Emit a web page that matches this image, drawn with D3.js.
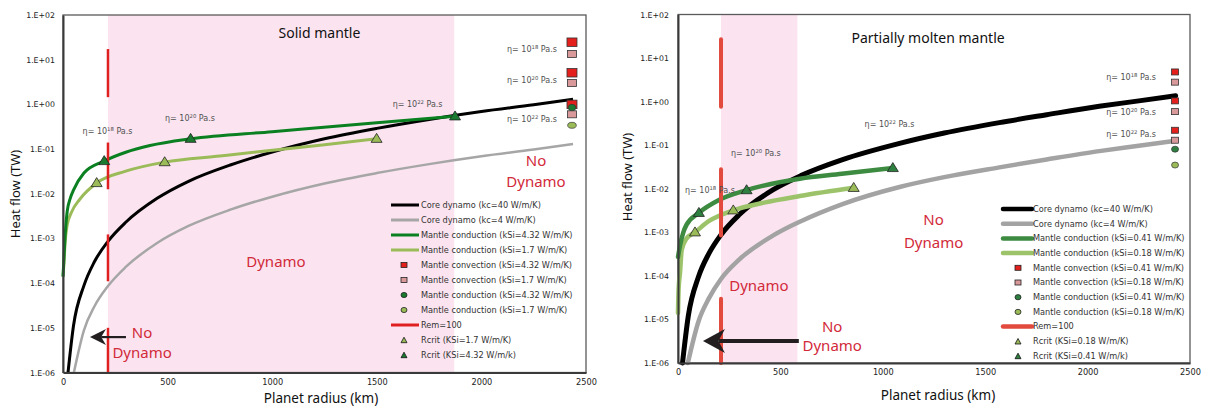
<!DOCTYPE html>
<html><head><meta charset="utf-8">
<script src="https://cdn.jsdelivr.net/npm/d3@7"></script>
<style>body{margin:0;background:#fff}</style>
</head><body>
<svg id="c" width="1208" height="411"></svg>
<script>
// ---------- shared ticks ----------
const yTickExps = [-6,-5,-4,-3,-2,-1,0,1,2];
const xTicks = [0,500,1000,1500,2000,2500];

// ---------- LEFT PANEL: Solid mantle (radius km, heat flow TW) ----------
const L_core40 = [[24,1.0e-6],[50,1.1e-5],[100,8.8e-5],[150,3.0e-4],[215,8.6e-4],[300,2.3e-3],[450,7.9e-3],[600,1.9e-2],[800,4.4e-2],[1000,8.6e-2],[1250,0.17],[1500,0.29],[1750,0.46],[2000,0.69],[2250,0.98],[2438,1.3]];
const L_core4 = [[52,1.0e-6],[100,8.8e-6],[150,3.0e-5],[215,8.6e-5],[300,2.3e-4],[450,7.9e-4],[600,1.9e-3],[800,4.4e-3],[1000,8.6e-3],[1250,1.7e-2],[1500,2.9e-2],[1750,4.6e-2],[2000,6.9e-2],[2250,9.8e-2],[2438,0.13]];
const L_cond432 = [[0,1.4e-4],[5,4e-4],[10,1.1e-3],[20,4e-3],[35,8e-3],[50,1.2e-2],[100,2.9e-2],[197,5.4e-2],[300,8.5e-2],[416,0.12],[610,0.17],[1000,0.245],[1500,0.39],[1874,0.54]];
const L_cond17 = [[0,1.4e-4],[5,3e-4],[10,8e-4],[20,2e-3],[40,3.8e-3],[80,7.5e-3],[161,1.74e-2],[300,3.2e-2],[486,5.1e-2],[750,7e-2],[1000,9.4e-2],[1250,0.125],[1499,0.17]];
const L_rcrit17 = [[161,0.0174],[486,0.051],[1499,0.17]];
const L_rcrit432 = [[197,0.054],[610,0.17],[1874,0.54]];
const L_convR = 2433;
const L_conv432 = [24.6,5.1,1.0];
const L_conv17 = [13.4,3.0,0.6];
const L_condPt432 = [0.85];
const L_condPt17 = [0.34];
const L_remR = 215;
const L_remSegs = [[17.3,1.45],[0.14,0.0126],[1.23e-3,1.1e-4],[1e-5,1e-6]];
const L_band = [215,1870];
const L_legend = ["Core dynamo (kc=40 W/m/K)","Core dynamo (kc=4 W/m/K)","Mantle conduction (kSi=4.32 W/m/K)","Mantle conduction (kSi=1.7 W/m/K)","Mantle convection (kSi=4.32 W/m/K)","Mantle convection (kSi=1.7 W/m/K)","Mantle conduction (kSi=4.32 W/m/K)","Mantle conduction (kSi=1.7 W/m/K)","Rem=100","Rcrit (KSi=1.7 W/m/K)","Rcrit (KSi=4.32 W/m/k)"];

// ---------- RIGHT PANEL: Partially molten mantle ----------
const R_core40 = [[22,1.0e-6],[50,1.18e-5],[100,9.5e-5],[150,3.2e-4],[210,8.8e-4],[300,2.56e-3],[465,9.5e-3],[600,2.0e-2],[800,4.6e-2],[1082,0.11],[1300,0.19],[1569,0.33],[1800,0.5],[2057,0.78],[2250,1.04],[2430,1.36]];
const R_core4 = [[48,1.0e-6],[100,9e-6],[150,3e-5],[210,8.5e-5],[300,2.4e-4],[465,8.5e-4],[600,1.8e-3],[800,4.4e-3],[1082,1.1e-2],[1300,1.85e-2],[1569,3.1e-2],[1800,4.7e-2],[2057,7.3e-2],[2250,0.097],[2430,0.126]];
const R_cond041 = [[0,2.7e-4],[10,5e-4],[26,1.0e-3],[42,1.5e-3],[102,2.8e-3],[200,5.5e-3],[335,9.3e-3],[595,1.7e-2],[800,2.2e-2],[1049,3.0e-2]];
const R_cond018 = [[0,1.4e-5],[3,5e-5],[10,1.2e-4],[18,3.9e-4],[40,7e-4],[83,1.0e-3],[150,1.8e-3],[270,3.2e-3],[420,4.8e-3],[595,6.8e-3],[858,1.05e-2]];
const R_rcrit018 = [[83,1.0e-3],[270,3.2e-3],[858,1.05e-2]];
const R_rcrit041 = [[102,2.8e-3],[335,9.3e-3],[1049,3.0e-2]];
const R_convR = 2427;
const R_conv041 = [4.8,1.04,0.22];
const R_conv018 = [2.8,0.59,0.13];
const R_condPt041 = [0.081];
const R_condPt018 = [0.035];
const R_remR = 210;
const R_remSegs = [[27,0.76],[0.028,8.5e-4],[3.0e-5,1e-6]];
const R_band = [210,583];
const R_legend = ["Core dynamo (kc=40 W/m/K)","Core dynamo (kc=4 W/m/K)","Mantle conduction (kSi=0.41 W/m/K)","Mantle conduction (kSi=0.18 W/m/K)","Mantle convection (kSi=0.41 W/m/K)","Mantle convection (kSi=0.18 W/m/K)","Mantle conduction (kSi=0.41 W/m/K)","Mantle conduction (kSi=0.18 W/m/K)","Rem=100","Rcrit (KSi=0.18 W/m/K)","Rcrit (KSi=0.41 W/m/k)"];

// ---------- drawing ----------
const svg = d3.select('#c');
const SMALL = "'DejaVu Sans', sans-serif";
const BIG = "'Noto Sans', sans-serif";
const RED_TXT = '#d22a3a';
function fmtExp(e){ return '1.E' + (e<0?'-':'+') + String(Math.abs(e)).padStart(2,'0'); }

function triPath(w,h){ return `M0,${-h*0.6}L${w/2},${h*0.4}L${-w/2},${h*0.4}Z`; }

function etaLabel(g, x, y, exp, anchor){
  const t = g.append('text').attr('x',x).attr('y',y).attr('dy','0.35em')
    .attr('text-anchor',anchor).attr('font-family',SMALL).attr('font-size',8).attr('fill','#505050');
  t.append('tspan').text('η= 10');
  t.append('tspan').attr('dy',-3).attr('font-size',5.3).text(exp);
  t.append('tspan').attr('dy',3).text(' Pa.s');
}

function panel(c){
  const x = d3.scaleLinear().domain([0,2500]).range([c.left,c.right]);
  const y = d3.scaleLog().domain([1e-6,1e2]).range([c.bottom,c.top]);
  const g = svg.append('g');

  g.append('rect').attr('x',x(c.band[0])).attr('y',y(1e2))
    .attr('width',x(c.band[1])-x(c.band[0])).attr('height',y(1e-6)-y(1e2)).attr('fill','#fbe4f0');
  g.append('rect').attr('x',x(0)).attr('y',y(1e2)).attr('width',x(2500)-x(0)).attr('height',y(1e-6)-y(1e2))
    .attr('fill','none').attr('stroke','#5a5a5a').attr('stroke-width',1.3);

  const line = d3.line().x(d=>x(d[0])).y(d=>y(d[1])).curve(d3.curveMonotoneX);
  c.curves.forEach(k => g.append('path').attr('d',line(k.data)).attr('fill','none')
    .attr('stroke',k.color).attr('stroke-width',k.w).attr('stroke-linecap',c.cap));

  c.remSegs.forEach(s => g.append('line').attr('x1',x(c.remR)).attr('x2',x(c.remR))
    .attr('y1',y(s[0])).attr('y2',y(s[1])).attr('stroke',c.remColor).attr('stroke-width',c.remW).attr('stroke-linecap',c.cap));

  c.tris.forEach(t => t.data.forEach(d => g.append('path').attr('d',triPath(c.triW,c.triH))
    .attr('transform',`translate(${x(d[0])},${y(d[1])})`).attr('fill',t.color).attr('stroke','#222').attr('stroke-width',0.8)));

  c.squares.forEach(s => s.data.forEach(v => g.append('rect')
    .attr('x',x(c.convR)-s.w/2).attr('y',y(v)-s.h/2).attr('width',s.w).attr('height',s.h)
    .attr('fill',s.color).attr('stroke','#333').attr('stroke-width',0.8)));
  c.circles.forEach(s => s.data.forEach(v => g.append('ellipse')
    .attr('cx',x(c.convR)).attr('cy',y(v)).attr('rx',s.rx).attr('ry',s.ry)
    .attr('fill',s.color).attr('stroke','#333').attr('stroke-width',0.7)));

  // annotations
  c.etas.forEach(e => etaLabel(g, x(e.r), y(e.q), e.exp, e.anchor));
  c.texts.forEach(t => g.append('text').attr('x',x(t.r)).attr('y',y(t.q)).attr('dy','0.35em')
    .attr('text-anchor','middle').attr('font-family',BIG).attr('font-size',t.size).attr('fill',t.color).text(t.s));

  // arrow
  const a = c.arrow, ay = y(a.q), tip = x(a.to), tail = x(a.from);
  g.append('line').attr('x1',tail).attr('x2',tip+a.hl*0.7).attr('y1',ay).attr('y2',ay)
    .attr('stroke','#231f20').attr('stroke-width',a.w);
  g.append('path').attr('d',`M${tip},${ay}L${tip+a.hl},${ay-a.hw}L${tip+a.hl*0.7},${ay}L${tip+a.hl},${ay+a.hw}Z`).attr('fill','#231f20');

  // legend
  const L = c.legend;
  c.legendItems.forEach((it,i) => {
    const ly = L.y0 + i*L.dy;
    if(it.type==='line') g.append('line').attr('x1',L.x0).attr('x2',L.x1).attr('y1',ly).attr('y2',ly)
      .attr('stroke',it.color).attr('stroke-width',L.lw).attr('stroke-linecap',c.cap);
    else if(it.type==='sq') g.append('rect').attr('x',L.mx-3).attr('y',ly-2.5).attr('width',6).attr('height',5)
      .attr('fill',it.color).attr('stroke','#222').attr('stroke-width',0.8);
    else if(it.type==='ci') g.append('ellipse').attr('cx',L.mx).attr('cy',ly).attr('rx',3).attr('ry',2.6)
      .attr('fill',it.color).attr('stroke','#222').attr('stroke-width',0.8);
    else g.append('path').attr('d',triPath(6,5.5)).attr('transform',`translate(${L.mx},${ly+0.5})`)
      .attr('fill',it.color).attr('stroke','#111').attr('stroke-width',0.8);
    g.append('text').attr('x',L.tx).attr('y',ly).attr('dy','0.35em').attr('font-family',SMALL)
      .attr('font-size',8.2).attr('fill','#333').text(c.legendLabels[i]);
  });

  // axes
  const ya = g.append('g').attr('transform',`translate(${x(0)},0)`)
    .call(d3.axisLeft(y).tickValues(yTickExps.map(e=>Math.pow(10,e))).tickSize(0).tickPadding(c.yPad)
      .tickFormat(d=>fmtExp(Math.round(Math.log10(d)))));
  const xa = g.append('g').attr('transform',`translate(0,${y(1e-6)})`)
    .call(d3.axisBottom(x).tickValues(xTicks).tickSize(0).tickPadding(c.xPad).tickFormat(d3.format('d')));
  [ya,xa].forEach(a => {
    a.select('.domain').attr('stroke','#3a3a3a').attr('stroke-width',2);
    a.selectAll('text').attr('font-family',SMALL).attr('fill','#222');
  });
  ya.selectAll('text').attr('font-size',7.8);
  xa.selectAll('text').attr('font-size',8.2);
  g.append('text').attr('transform',`translate(${c.yLab[0]},${c.yLab[1]}) rotate(-90)`).attr('dy','0.35em')
    .attr('text-anchor','middle').attr('font-family',BIG).attr('font-size',13).attr('fill','#111').text('Heat flow (TW)');
  g.append('text').attr('x',c.xLab[0]).attr('y',c.xLab[1]).attr('dy','0.35em')
    .attr('text-anchor','middle').attr('font-family',BIG).attr('font-size',13.5).attr('fill','#111').text('Planet radius (km)');
}

const legendTypesL = [
  {type:'line',color:'#000'},{type:'line',color:'#a6a6a6'},{type:'line',color:'#0a8020'},{type:'line',color:'#9bbb59'},
  {type:'sq',color:'#e3201b'},{type:'sq',color:'#d9999a'},{type:'ci',color:'#1a7a30'},{type:'ci',color:'#9bbb59'},
  {type:'line',color:'#e02020'},{type:'tri',color:'#9bbb59'},{type:'tri',color:'#1a7a30'}];
const legendTypesR = [
  {type:'line',color:'#000'},{type:'line',color:'#a3a3a3'},{type:'line',color:'#3d8b41'},{type:'line',color:'#9cc36a'},
  {type:'sq',color:'#e3201b'},{type:'sq',color:'#d9999a'},{type:'ci',color:'#2e8040'},{type:'ci',color:'#9bbb59'},
  {type:'line',color:'#e24a3e'},{type:'tri',color:'#9bbb59'},{type:'tri',color:'#2e8040'}];

panel({
  left:63,right:586,top:15,bottom:372.5,cap:'butt',band:L_band,
  curves:[{data:L_core4,color:'#a6a6a6',w:2.5},{data:L_core40,color:'#000',w:3},
          {data:L_cond17,color:'#9bbb59',w:3},{data:L_cond432,color:'#0a8020',w:3}],
  remR:L_remR,remSegs:L_remSegs,remColor:'#e02020',remW:2.5,
  triW:11,triH:9,
  tris:[{data:L_rcrit17,color:'#9bbb59'},{data:L_rcrit432,color:'#1a7a30'}],
  convR:L_convR,
  squares:[{data:L_conv432,color:'#e3201b',w:10,h:8.5},{data:L_conv17,color:'#d9999a',w:9,h:7}],
  circles:[{data:L_condPt432,color:'#1a7a30',rx:3.8,ry:3.2},{data:L_condPt17,color:'#9bbb59',rx:4.3,ry:3}],
  etas:[{r:213,q:0.25,exp:'18',anchor:'middle'},{r:607,q:0.5,exp:'20',anchor:'middle'},{r:1695,q:1.0,exp:'22',anchor:'middle'},
        {r:2361,q:17,exp:'18',anchor:'end'},{r:2361,q:3.5,exp:'20',anchor:'end'},{r:2361,q:0.47,exp:'22',anchor:'end'}],
  texts:[{r:1226,q:40,s:'Solid mantle',size:14,color:'#111'},
         {r:2261,q:0.054,s:'No',size:15,color:RED_TXT},{r:2261,q:0.019,s:'Dynamo',size:15,color:RED_TXT},
         {r:1018,q:2.95e-4,s:'Dynamo',size:15,color:RED_TXT},
         {r:378,q:7.9e-6,s:'No',size:15,color:RED_TXT},{r:378,q:2.75e-6,s:'Dynamo',size:15,color:RED_TXT}],
  arrow:{from:301,to:129,q:6.2e-6,w:2.2,hl:16,hw:8},
  legend:{x0:391,x1:419,mx:404,tx:421,y0:205,dy:15,lw:3},
  legendItems:legendTypesL,legendLabels:L_legend,
  yPad:8,xPad:7,yLab:[15.5,194],xLab:[321,398]
});

panel({
  left:678,right:1190,top:14.5,bottom:363,cap:'round',band:R_band,
  curves:[{data:R_core4,color:'#a3a3a3',w:4.5},{data:R_core40,color:'#000',w:5},
          {data:R_cond018,color:'#9cc36a',w:4.5},{data:R_cond041,color:'#3d8b41',w:4.5}],
  remR:R_remR,remSegs:R_remSegs,remColor:'#e24a3e',remW:4,
  triW:11,triH:9,
  tris:[{data:R_rcrit018,color:'#9bbb59'},{data:R_rcrit041,color:'#2e8040'}],
  convR:R_convR,
  squares:[{data:R_conv041,color:'#e3201b',w:7,h:6},{data:R_conv018,color:'#d9999a',w:7,h:6}],
  circles:[{data:R_condPt041,color:'#2e8040',rx:3.5,ry:3},{data:R_condPt018,color:'#9bbb59',rx:3.5,ry:3}],
  etas:[{r:156,q:0.0093,exp:'18',anchor:'middle'},{r:380,q:0.065,exp:'20',anchor:'middle'},{r:1033,q:0.30,exp:'22',anchor:'middle'},
        {r:2334,q:3.7,exp:'18',anchor:'end'},{r:2334,q:0.58,exp:'20',anchor:'end'},{r:2334,q:0.175,exp:'22',anchor:'end'}],
  texts:[{r:1221,q:28,s:'Partially molten mantle',size:14,color:'#111'},
         {r:1248,q:1.9e-3,s:'No',size:15,color:RED_TXT},{r:1248,q:5.9e-4,s:'Dynamo',size:15,color:RED_TXT},
         {r:395,q:6.0e-5,s:'Dynamo',size:15,color:RED_TXT},
         {r:753,q:6.9e-6,s:'No',size:15,color:RED_TXT},{r:753,q:2.5e-6,s:'Dynamo',size:15,color:RED_TXT}],
  arrow:{from:590,to:122,q:3.2e-6,w:4,hl:22,hw:12},
  legend:{x0:1003,x1:1032,mx:1018,tx:1033,y0:209,dy:14.7,lw:4.5},
  legendItems:legendTypesR,legendLabels:R_legend,
  yPad:9,xPad:6,yLab:[627.5,177],xLab:[938,395]
});
</script>
</body></html>
